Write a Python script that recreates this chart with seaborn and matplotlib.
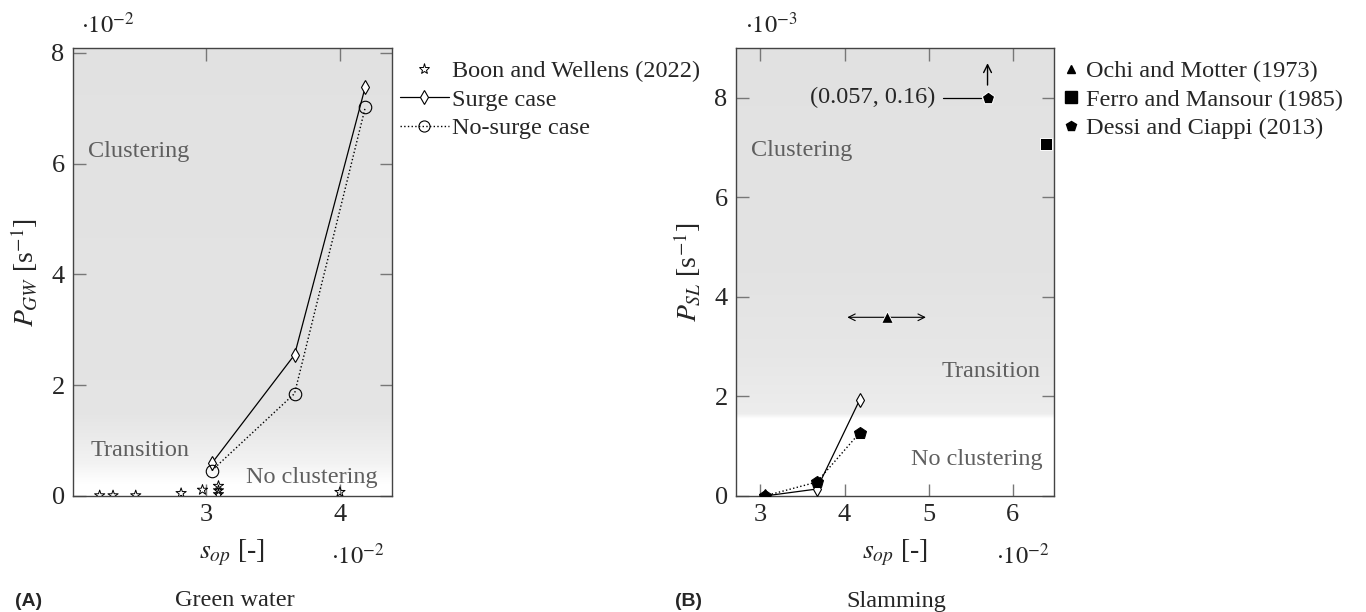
import numpy as np
import seaborn as sns
import matplotlib
matplotlib.use("Agg")
import matplotlib.pyplot as plt
from matplotlib.lines import Line2D

# panel A: green water (x and y both in units of 1e-2)
boon_x = [2.20, 2.30, 2.47, 2.81, 2.97, 3.09, 3.09, 3.09, 4.00]
boon_y = [0.01, 0.01, 0.01, 0.05, 0.11, 0.18, 0.10, 0.03, 0.07]
gw_sop = [3.04, 3.66, 4.19]
gw_surge = [0.59, 2.55, 7.39]
gw_nosurge = [0.46, 1.85, 7.02]

# panel B: slamming (x in 1e-2, y in 1e-3)
sl_sop = [3.05, 3.67, 4.18]
sl_surge = [0.00, 0.14, 1.93]
sl_nosurge = [0.00, 0.28, 1.27]
ochi_x, ochi_y, ochi_xerr = [4.5], [3.59], [0.5]
ferro_x, ferro_y = [6.4], [7.07]
dessi_x, dessi_y = [5.7], [8.0]

W, H = 1366, 612
sns.set_style("ticks")
plt.rcParams["font.family"] = ["Liberation Serif", "DejaVu Serif"]
plt.rcParams["mathtext.fontset"] = "stix"
FS = 17.5
TICK_FS = 19
LAB_FS = 20
GRAYTXT = "#5f5f5f"

fig = plt.figure(figsize=(W / 100, H / 100), dpi=100)
axA = fig.add_axes([73 / W, 116 / H, 319 / W, 448 / H])
axB = fig.add_axes([736 / W, 116 / H, 318 / W, 448 / H])


def background(ax, xlim, ylim, stops):
    # vertical gray -> white shading of the regime regions
    yy = np.linspace(ylim[0], ylim[1], 400)
    v = np.interp(yy, [s[0] for s in stops], [s[1] for s in stops])
    col = np.ones((400, 1, 3)) * v[:, None, None]
    ax.imshow(col, extent=[xlim[0], xlim[1], ylim[0], ylim[1]], origin="lower",
              aspect="auto", zorder=0, interpolation="bilinear")


def style(ax, xlim, ylim, xticks, yticks):
    ax.set_xlim(*xlim)
    ax.set_ylim(*ylim)
    ax.set_xticks(xticks)
    ax.set_yticks(yticks)
    ax.tick_params(direction="in", top=True, right=True, length=9, width=1,
                   color="#777777", labelsize=TICK_FS, pad=6)
    for s in ax.spines.values():
        s.set_color("#444444")
        s.set_linewidth(1)
    ax.set_xlabel(r"$s_{op}$ [-]", fontsize=LAB_FS, labelpad=8)


# ---- panel A
xlimA, ylimA = (2.0, 4.39), (0, 8.09)
background(axA, xlimA, ylimA, [(0, 1.0), (0.22, 1.0), (0.6, 0.95), (1.5, 0.895), (8.09, 0.885)])
sns.scatterplot(x=boon_x, y=boon_y, marker="*", s=60, facecolor="none",
                edgecolor="black", linewidth=0.7, ax=axA, zorder=3)
sns.lineplot(x=gw_sop, y=gw_surge, color="black", lw=0.9, marker="d", ms=7.5,
             mfc="white", mec="black", mew=0.8, sort=False, estimator=None, ax=axA, zorder=4)
sns.lineplot(x=gw_sop, y=gw_nosurge, color="black", lw=1.0, ls=":", marker="o", ms=9,
             mfc="none", mec="black", mew=0.8, sort=False, estimator=None, ax=axA, zorder=4)
style(axA, xlimA, ylimA, [3, 4], [0, 2, 4, 6, 8])
axA.set_ylabel(r"$P_{GW}$ [s$^{-1}$]", fontsize=LAB_FS, labelpad=8)
axA.text(2.11, 6.23, "Clustering", color=GRAYTXT, fontsize=FS, va="center", ha="left")
axA.text(2.13, 0.83, "Transition", color=GRAYTXT, fontsize=FS, va="center", ha="left")
axA.text(4.28, 0.34, "No clustering", color=GRAYTXT, fontsize=FS, va="center", ha="right")

# ---- panel B
xlimB, ylimB = (2.71, 6.49), (0, 9)
background(axB, xlimB, ylimB, [(0, 1.0), (1.55, 1.0), (1.65, 0.93), (2.8, 0.905), (4.5, 0.89), (9, 0.885)])
sns.lineplot(x=sl_sop, y=sl_surge, color="black", lw=0.9, marker="d", ms=7.5,
             mfc="white", mec="black", mew=0.8, sort=False, estimator=None, ax=axB, zorder=4)
sns.lineplot(x=sl_sop, y=sl_nosurge, color="black", lw=1.0, ls=":", marker="p", ms=9,
             mfc="black", mec="black", sort=False, estimator=None, ax=axB, zorder=5)
axB.annotate("", xy=(ochi_x[0] - ochi_xerr[0], ochi_y[0]), xytext=(ochi_x[0] + ochi_xerr[0], ochi_y[0]),
             arrowprops=dict(arrowstyle="<->", color="black", lw=0.8, mutation_scale=12), zorder=3)
sns.scatterplot(x=ochi_x, y=ochi_y, marker="^", s=70, color="black", ax=axB, zorder=5)
sns.scatterplot(x=ferro_x, y=ferro_y, marker="s", s=75, color="black", ax=axB, zorder=5)
sns.scatterplot(x=dessi_x, y=dessi_y, marker="p", s=85, color="black", ax=axB, zorder=5)
axB.annotate("", xy=(dessi_x[0], dessi_y[0] + 0.75), xytext=(dessi_x[0], dessi_y[0] + 0.2),
             arrowprops=dict(arrowstyle="->", color="black", lw=1.0, mutation_scale=14))
axB.plot([5.17, 5.62], [dessi_y[0], dessi_y[0]], color="black", lw=0.9)
axB.text(5.08, dessi_y[0], "(0.057, 0.16)", fontsize=FS, va="center", ha="right")
style(axB, xlimB, ylimB, [3, 4, 5, 6], [0, 2, 4, 6, 8])
axB.set_ylabel(r"$P_{SL}$ [s$^{-1}$]", fontsize=LAB_FS, labelpad=8)
axB.text(2.89, 6.95, "Clustering", color=GRAYTXT, fontsize=FS, va="center", ha="left")
axB.text(6.33, 2.51, "Transition", color=GRAYTXT, fontsize=FS, va="center", ha="right")
axB.text(6.36, 0.74, "No clustering", color=GRAYTXT, fontsize=FS, va="center", ha="right")

# offset texts
for x, y, s in [(108, 25, r"$\cdot10^{-2}$"), (358, 556, r"$\cdot10^{-2}$"),
                (771, 25, r"$\cdot10^{-3}$"), (1023, 556, r"$\cdot10^{-2}$")]:
    fig.text(x / W, 1 - y / H, s, fontsize=FS, ha="center", va="center")

# panel captions
fig.text(15 / W, 1 - 601 / H, "(A)", fontsize=14, fontweight="bold",
         family="Liberation Sans", ha="left", va="center")
fig.text(235 / W, 1 - 601 / H, "Green water", fontsize=FS, ha="center", va="center")
fig.text(675 / W, 1 - 601 / H, "(B)", fontsize=14, fontweight="bold",
         family="Liberation Sans", ha="left", va="center")
fig.text(896 / W, 1 - 601 / H, "Slamming", fontsize=FS, ha="center", va="center")

# legends
hA = [Line2D([], [], ls="none", marker="*", ms=8, mfc="none", mec="black", mew=0.7),
      Line2D([], [], color="black", lw=0.9, marker="d", ms=7, mfc="white", mec="black", mew=0.8),
      Line2D([], [], color="black", lw=1.0, ls=":", marker="o", ms=8, mfc="none", mec="black", mew=0.8)]
fig.legend(hA, ["Boon and Wellens (2022)", "Surge case", "No-surge case"],
           loc="upper left", bbox_to_anchor=(400 / W, 1 - 60 / H), frameon=False,
           fontsize=FS, handlelength=2.0, handletextpad=0.15, labelspacing=0.27,
           borderpad=0, borderaxespad=0)
hB = [Line2D([], [], ls="none", marker="^", ms=6, color="black"),
      Line2D([], [], ls="none", marker="s", ms=8, color="black"),
      Line2D([], [], ls="none", marker="p", ms=7, color="black")]
fig.legend(hB, ["Ochi and Motter (1973)", "Ferro and Mansour (1985)", "Dessi and Ciappi (2013)"],
           loc="upper left", bbox_to_anchor=(1064 / W, 1 - 60 / H), frameon=False,
           fontsize=FS, handlelength=0.6, handletextpad=0.3, labelspacing=0.27,
           borderpad=0, borderaxespad=0)

fig.savefig("out.png", dpi=100)
